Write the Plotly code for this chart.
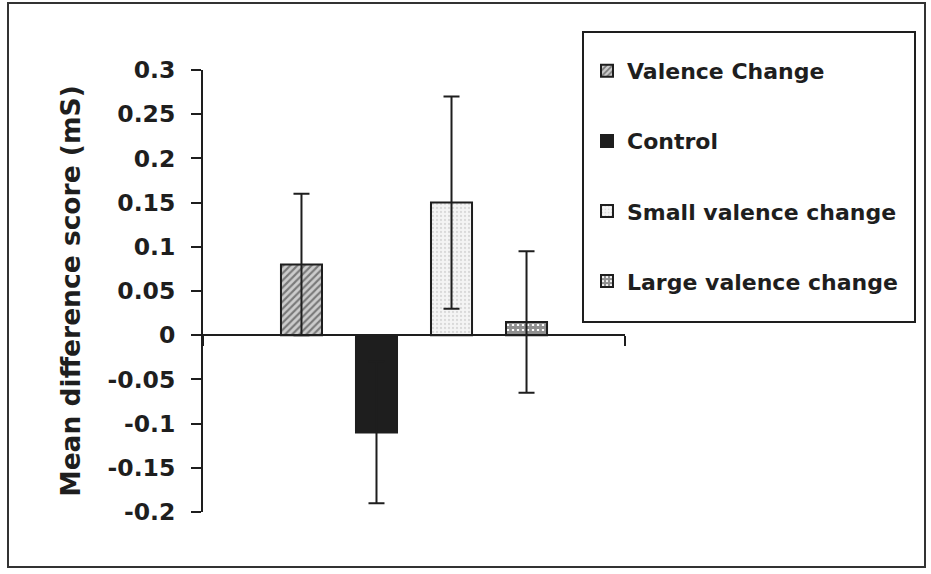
import plotly.graph_objects as go

# Mean difference scores (mS) with symmetric error bars
series = ["Valence Change", "Control", "Small valence change", "Large valence change"]
means = [0.08, -0.11, 0.15, 0.015]
errors = [0.08, 0.08, 0.12, 0.08]
category = ["All"]

# y axis ticks
y_ticks = [0.3, 0.25, 0.2, 0.15, 0.1, 0.05, 0, -0.05, -0.1, -0.15, -0.2]
y_labels = ["0.3", "0.25", "0.2", "0.15", "0.1", "0.05", "0", "-0.05", "-0.1", "-0.15", "-0.2"]
y_min, y_max = -0.2, 0.3

INK = "#1e1e1e"
FONT = "DejaVu Sans"

patterns = [
    dict(shape="/", fgcolor="#262626", bgcolor="#cccccc", size=5, solidity=0.42),
    dict(shape="", fgcolor=INK, bgcolor=INK),
    dict(shape=".", fgcolor="#bdbdbd", bgcolor="#f4f4f4", size=4, solidity=0.25),
    dict(shape="+", fgcolor="#222222", bgcolor="#ffffff", size=5, solidity=0.8),
]
fills = ["#cccccc", INK, "#f4f4f4", "#ffffff"]

fig = go.Figure()
for i, name in enumerate(series):
    fig.add_trace(go.Bar(
        name=name,
        x=category,
        y=[means[i]],
        legendgroup=name,
        marker=dict(color=fills[i], pattern=patterns[i], line=dict(color=INK, width=2)),
        error_y=dict(type="data", array=[errors[i]], visible=True,
                     color=INK, thickness=2, width=8),
    ))

zero_pos = (0 - y_min) / (y_max - y_min)

# plot area: x 203..625, y 70..512 in a 931x574 canvas
L, R, T, B = 203, 625, 70, 512
W, H = 931, 574
def px_x(p):
    return (p - L) / (R - L)
def px_y(p):
    return (B - p) / (B - T)

shapes = [
    # outer frame around the whole chart
    dict(type="rect", xref="paper", yref="paper",
         x0=px_x(8), x1=px_x(925), y0=px_y(567), y1=px_y(3),
         line=dict(color="#333333", width=2), fillcolor="rgba(0,0,0,0)", layer="below"),
    # legend frame
    dict(type="rect", xref="paper", yref="paper",
         x0=px_x(583), x1=px_x(915), y0=px_y(322), y1=px_y(32),
         line=dict(color=INK, width=2), fillcolor="rgba(0,0,0,0)", layer="below"),
]

fig.update_layout(
    width=W, height=H,
    margin=dict(l=L, r=W - R, t=T, b=H - B, autoexpand=False),
    paper_bgcolor="white", plot_bgcolor="white",
    barmode="group", bargap=0.289, bargroupgap=0.453,
    font=dict(family=FONT, color=INK),
    showlegend=True,
    legend=dict(
        xref="paper", yref="paper",
        x=px_x(587), y=px_y(50), xanchor="left", yanchor="top",
        traceorder="grouped", tracegroupgap=38.5,
        font=dict(family=FONT, size=22, color=INK, weight="bold"),
        bgcolor="rgba(0,0,0,0)", borderwidth=0, itemwidth=30,
    ),
    shapes=shapes,
    xaxis=dict(
        type="category", range=[-0.5, 0.5],
        showticklabels=False, ticks="outside", tickson="boundaries",
        ticklen=10, tickwidth=2, tickcolor=INK,
        showline=True, linecolor=INK, linewidth=2,
        anchor="free", position=zero_pos, showgrid=False, zeroline=False,
    ),
    yaxis=dict(
        range=[y_min, y_max], tickvals=y_ticks, ticktext=y_labels,
        ticks="outside", ticklen=10, tickwidth=2, tickcolor=INK,
        showline=True, linecolor=INK, linewidth=2,
        showgrid=False, zeroline=False,
        tickfont=dict(family=FONT, size=23.5, color=INK, weight="bold"),
        ticklabelstandoff=11,
        title=dict(text="Mean difference score (mS)", standoff=19,
                   font=dict(family=FONT, size=26.5, color=INK, weight="bold")),
    ),
)

fig.write_html("out.html")
